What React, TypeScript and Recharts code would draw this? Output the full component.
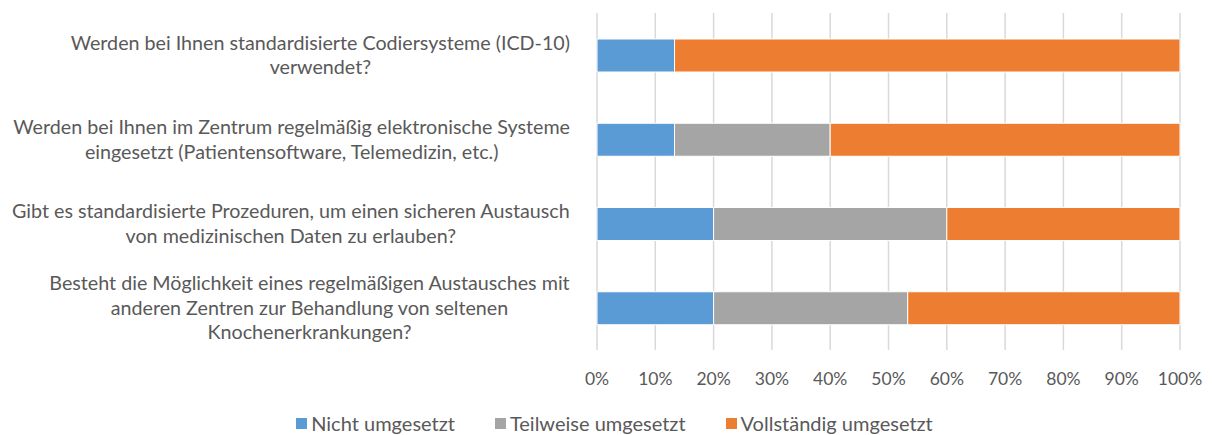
import React from 'react';
import { Bar, BarChart, CartesianGrid, Legend, XAxis, YAxis } from 'recharts';

// Fragen (Zeilenumbrüche wie im Original)
const questions: string[][] = [
  ['Werden bei Ihnen standardisierte Codiersysteme (ICD-10)', 'verwendet?'],
  [
    'Werden bei Ihnen im Zentrum regelmäßig elektronische Systeme',
    'eingesetzt (Patientensoftware, Telemedizin, etc.)',
  ],
  [
    'Gibt es standardisierte Prozeduren, um einen sicheren Austausch',
    'von medizinischen Daten zu erlauben?',
  ],
  [
    'Besteht die Möglichkeit eines regelmäßigen Austausches mit',
    'anderen Zentren zur Behandlung von seltenen',
    'Knochenerkrankungen?',
  ],
];

const nicht = [13.3, 13.3, 20, 20];
const teilweise = [0, 26.7, 40, 33.3];
const vollstaendig = [86.7, 60, 40, 46.7];

const xTicks = [0, 10, 20, 30, 40, 50, 60, 70, 80, 90, 100];

const series = [
  { key: 'nicht', name: 'Nicht umgesetzt', color: '#5b9bd5' },
  { key: 'teilweise', name: 'Teilweise umgesetzt', color: '#a5a5a5' },
  { key: 'voll', name: 'Vollständig umgesetzt', color: '#ed7d31' },
];

const FONT = "Lato, sans-serif";
const LABEL_SIZE = 19.7;

const data = questions.map((lines, i) => ({
  name: String(i),
  nicht: nicht[i],
  teilweise: teilweise[i],
  voll: vollstaendig[i],
}));

if (typeof document !== 'undefined') document.body.style.margin = '0';

let ctx: CanvasRenderingContext2D | null = null;
function textWidth(s: string) {
  if (!ctx) ctx = document.createElement('canvas').getContext('2d');
  if (!ctx) return s.length * LABEL_SIZE * 0.5;
  ctx.font = `${LABEL_SIZE}px ${FONT}`;
  return ctx.measureText(s).width;
}

function QuestionTick({ x, y, payload }: any) {
  const lines = questions[Number(payload.value)];
  const maxW = Math.max(...lines.map(textWidth));
  const right = x - 25;
  const cx = right - maxW / 2;
  const lh = 24.5;
  const top = y - ((lines.length - 1) * lh) / 2;
  return (
    <g>
      {lines.map((l, i) => (
        <text
          key={i}
          x={cx}
          y={top + i * lh}
          dy="0.35em"
          textAnchor="middle"
          fill="#595959"
          fontSize={LABEL_SIZE}
          fontFamily={FONT}
        >
          {l}
        </text>
      ))}
    </g>
  );
}

function LegendContent() {
  return (
    <div
      style={{
        display: 'flex',
        justifyContent: 'center',
        gap: 40,
        paddingTop: 11,
        paddingLeft: 49,
        fontFamily: FONT,
        fontSize: 20,
        color: '#595959',
      }}
    >
      {series.map((s) => (
        <span key={s.key} style={{ display: 'flex', alignItems: 'center' }}>
          <span
            style={{
              width: 11,
              height: 11,
              background: s.color,
              display: 'inline-block',
              marginRight: 4,
            }}
          />
          {s.name}
        </span>
      ))}
    </div>
  );
}

export default function App() {
  return (
    <BarChart
      width={1212}
      height={435}
      data={data}
      layout="vertical"
      margin={{ top: 13, right: 32, bottom: 0, left: 0 }}
      barSize={33}
    >
      <CartesianGrid horizontal={false} stroke="#d9d9d9" strokeWidth={1.5} />
      <XAxis
        type="number"
        domain={[0, 100]}
        ticks={xTicks}
        tickFormatter={(v) => `${v}%`}
        axisLine={false}
        tickLine={false}
        tickSize={0}
        tickMargin={23}
        height={50}
        interval={0}
        tick={{ fill: '#595959', fontSize: 17.5, fontFamily: FONT }}
      />
      <YAxis
        type="category"
        dataKey="name"
        width={597}
        axisLine={false}
        tickLine={false}
        tickSize={0}
        tick={<QuestionTick />}
      />
      <Legend verticalAlign="bottom" height={35} content={<LegendContent />} />
      {series.map((s) => (
        <Bar
          key={s.key}
          dataKey={s.key}
          name={s.name}
          stackId="a"
          fill={s.color}
          stroke="#ffffff"
          strokeWidth={1}
          isAnimationActive={false}
        />
      ))}
    </BarChart>
  );
}
